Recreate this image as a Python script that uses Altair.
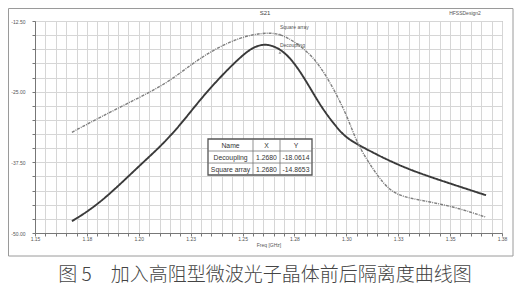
import altair as alt
import pandas as pd

# ---------------- data ----------------
series_names = ["Decoupling", "Square array"]

freq_dec = [1.1678, 1.1813, 1.2005, 1.2101, 1.2197, 1.2293, 1.2389, 1.2486, 1.2548,
            1.2606, 1.2654, 1.2702, 1.2750, 1.2798, 1.2846, 1.2894, 1.2942, 1.2990,
            1.3048, 1.3111, 1.3221, 1.3337, 1.3495, 1.3673]
db_dec = [-47.91, -44.82, -38.01, -34.83, -31.03, -26.52, -22.54, -18.99, -17.15,
          -16.53, -16.97, -18.03, -19.98, -22.63, -25.64, -28.47, -30.76, -32.88,
          -34.21, -35.45, -37.48, -39.25, -41.19, -43.32]

freq_sq = [1.1678, 1.1813, 1.2005, 1.2135, 1.2260, 1.2356, 1.2486, 1.2596, 1.2673,
           1.2750, 1.2846, 1.2928, 1.2990, 1.3014, 1.3048, 1.3077, 1.3144, 1.3207,
           1.3274, 1.3413, 1.3543, 1.3673]
db_sq = [-32.18, -29.53, -25.99, -23.51, -19.98, -17.68, -15.38, -14.59, -14.64,
         -16.09, -18.92, -23.69, -28.29, -30.41, -33.60, -35.71, -39.60, -42.43,
         -43.67, -44.55, -45.62, -47.21]

marker_x = [1.2680, 1.2680]
marker_y = [-18.0614, -14.8653]
marker_x_text = ["1.2680", "1.2680"]
marker_y_text = ["-18.0614", "-14.8653"]
table_header = ["Name", "X", "Y"]

x_tick_labels = ["1.15", "1.18", "1.20", "1.23", "1.25", "1.28", "1.30", "1.33", "1.35", "1.38"]
y_tick_labels = ["-50.00", "-37.50", "-25.00", "-12.50"]

chart_title = "S21"
design_name = "HFSSDesign2"
x_title = "Freq [GHz]"
caption = "图 5　加入高阻型微波光子晶体前后隔离度曲线图"

# ---------------- layout ----------------
W, H = 467, 212
FONT = "Liberation Sans"
CJK = "Noto Sans CJK SC"

df = pd.concat([
    pd.DataFrame({"freq": freq_dec, "db": db_dec, "series": series_names[0]}),
    pd.DataFrame({"freq": freq_sq, "db": db_sq, "series": series_names[1]}),
])
mk = pd.DataFrame({"series": series_names, "freq": marker_x, "db": marker_y})

x_vals = [round(1.15 + 0.005 * i, 3) for i in range(46)]
y_vals = [-50 + 2.5 * i for i in range(16)]
xlab_js = "[" + ",".join("'%s'" % s for s in x_tick_labels) + "]"
ylab_js = "[" + ",".join("'%s'" % s for s in y_tick_labels) + "]"
x_label_expr = ("round((datum.value-1.15)/0.005) % 5 == 0 ? " + xlab_js +
                "[round((datum.value-1.15)/0.025)] : ''")
y_label_expr = ("round((datum.value+50)/2.5) % 5 == 0 ? " + ylab_js +
                "[round((datum.value+50)/12.5)] : ''")

xscale = alt.Scale(domain=[1.15, 1.375], nice=False, zero=False)
yscale = alt.Scale(domain=[-50, -12.5], nice=False, zero=False)

GRID = "#d6d6d6"
x_axis = alt.Axis(values=x_vals, labelExpr=x_label_expr, labelOverlap=False, labelFlush=False,
                  grid=True, tickSize=3, labelPadding=0, labelFontSize=5, labelColor="#555",
                  labelFont=FONT, title=x_title, titleFontSize=5, titleFont=FONT,
                  titleFontWeight="normal", titleColor="#555", titlePadding=1,
                  gridColor=GRID, gridWidth=1, gridOpacity=1, domainColor="#777", tickColor="#777")
y_axis = alt.Axis(values=y_vals, labelExpr=y_label_expr, labelOverlap=False, labelFlush=False,
                  grid=True, tickSize=3, labelPadding=7, labelFontSize=5, labelColor="#555",
                  labelFont=FONT, title=None,
                  gridColor=GRID, gridWidth=1, gridOpacity=1, domainColor="#777", tickColor="#777")

X = alt.X("freq:Q", scale=xscale, axis=x_axis)
Y = alt.Y("db:Q", scale=yscale, axis=y_axis)

one = alt.Data(values=[{}])

frame = alt.Chart(one).mark_rect(fillOpacity=0, stroke="#9a9a9a", strokeWidth=1).encode(
    x=alt.value(-26.5), x2=alt.value(478), y=alt.value(-12.5), y2=alt.value(235))

lines = alt.Chart(df).mark_line(interpolate="basis").encode(
    x=X, y=Y,
    color=alt.Color("series:N", scale=alt.Scale(domain=series_names, range=["#3a3a3a", "#7e7e7e"]), legend=None),
    strokeDash=alt.StrokeDash("series:N", scale=alt.Scale(domain=series_names, range=[[1, 0], [3, 1, 1, 1]]), legend=None),
    strokeWidth=alt.StrokeWidth("series:N", scale=alt.Scale(domain=series_names, range=[1.9, 1.4]), legend=None),
)

mpoints = alt.Chart(mk).mark_point(shape="triangle-up", filled=True, size=8, color="#666").encode(x=X, y=Y)
mlabels = alt.Chart(mk).mark_text(align="left", baseline="middle", dx=0, dy=-7, fontSize=5,
                                  font=FONT, color="#555").encode(x=X, y=Y, text="series:N")

# titles
t_title = alt.Chart(one).mark_text(fontSize=6, font=FONT, color="#444").encode(
    x=alt.value(230), y=alt.value(-8), text=alt.value(chart_title))
t_design = alt.Chart(one).mark_text(fontSize=5, font=FONT, color="#555").encode(
    x=alt.value(430), y=alt.value(-8), text=alt.value(design_name))
t_caption = alt.Chart(one).mark_text(fontSize=19, font=CJK, fontWeight=300, color="#444",
                                     baseline="middle").encode(
    x=alt.value(230), y=alt.value(254), text=alt.value(caption))

# marker table
tx0, ty0 = 173, 118
col_w = [45, 27, 32]
row_h = 12
col_x = [tx0, tx0 + col_w[0], tx0 + col_w[0] + col_w[1], tx0 + sum(col_w)]
tbl_layers = [
    alt.Chart(one).mark_rect(fill="white", stroke="#555", strokeWidth=1.3).encode(
        x=alt.value(col_x[0]), x2=alt.value(col_x[3]), y=alt.value(ty0), y2=alt.value(ty0 + 3 * row_h))
]
for c in (1, 2):
    tbl_layers.append(alt.Chart(one).mark_rule(color="#777", strokeWidth=0.8).encode(
        x=alt.value(col_x[c]), y=alt.value(ty0), y2=alt.value(ty0 + 3 * row_h)))
for r in (1, 2):
    tbl_layers.append(alt.Chart(one).mark_rule(color="#777", strokeWidth=0.8).encode(
        x=alt.value(col_x[0]), x2=alt.value(col_x[3]), y=alt.value(ty0 + r * row_h)))
rows = [table_header] + [[series_names[i], marker_x_text[i], marker_y_text[i]] for i in range(2)]
for r, row in enumerate(rows):
    for c, txt in enumerate(row):
        tbl_layers.append(alt.Chart(one).mark_text(fontSize=6.8, font=FONT, color="#333",
                                                   baseline="middle").encode(
            x=alt.value((col_x[c] + col_x[c + 1]) / 2), y=alt.value(ty0 + r * row_h + row_h / 2 + 0.5),
            text=alt.value(txt)))

chart = alt.layer(lines, frame, mpoints, mlabels, t_title, t_design, *tbl_layers, t_caption).properties(
    width=W, height=H,
    padding={"left": 27, "top": 13, "right": 20, "bottom": 53},
    autosize=alt.AutoSizeParams(type="none"),
    background="white",
).configure_view(stroke="#999", strokeWidth=1)

chart.save("out.html", embed_options={"renderer": "svg", "actions": False})
